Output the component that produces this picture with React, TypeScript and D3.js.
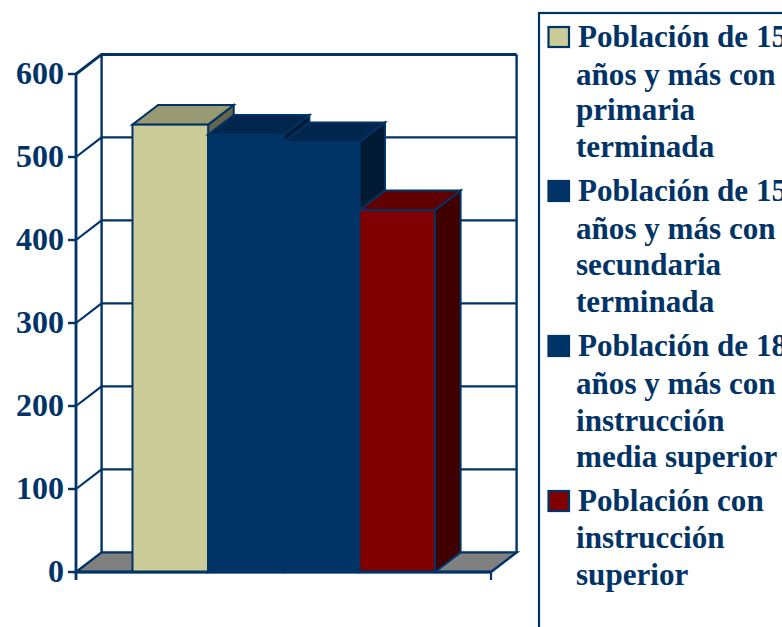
import React from "react";
import * as d3 from "d3";

const seriesNames = ["primaria", "secundaria", "mediaSuperior", "superior"];
const seriesValues = [539, 527, 518, 436];
const frontFills = ["#CCCC99", "#003366", "#003366", "#800000"];
const topFills = ["#999973", "#00264D", "#00264D", "#600000"];
const sideFills = ["#66664D", "#001A33", "#001A33", "#400000"];
const yTicks = [0, 100, 200, 300, 400, 500, 600];

const legendLabels = [
  ["Población de 15", "años y más con", "primaria", "terminada"],
  ["Población de 15", "años y más con", "secundaria", "terminada"],
  ["Población de 18", "años y más con", "instrucción", "media superior"],
  ["Población con", "instrucción", "superior"],
];
const legendSwatchFills = ["#CCCC99", "#003366", "#003366", "#800000"];
const legendBaselines = [
  [47, 85, 120, 157],
  [201, 239, 275, 312],
  [356, 394, 431, 467],
  [511, 548, 585],
];

const INK = "#003366";
const FONT = '"Liberation Serif", "Times New Roman", serif';
const DEPTH_X = 25.6;
const DEPTH_Y = 19.6;

const y = d3.scaleLinear().domain([0, 600]).range([572, 74]);
const x = d3.scaleBand<string>().domain(seriesNames).range([132.5, 435]);

const poly = (pts: [number, number][]) => pts.map((p) => p.join(",")).join(" ");

export default function App() {
  const x0 = 76;
  const x1 = 491;
  const y0 = y(0);
  const yTop = y(600);
  return (
    <svg
      width={782}
      height={627}
      style={{ position: "absolute", left: 0, top: 0, background: "#fff" }}
      fontFamily={FONT}
      fontWeight="bold"
    >
      {/* floor */}
      <polygon
        points={poly([
          [x0, y0],
          [x0 + DEPTH_X, y0 - DEPTH_Y],
          [x1 + DEPTH_X, y0 - DEPTH_Y],
          [x1, y0],
        ])}
        fill="#808080"
        stroke={INK}
        strokeWidth={2.4}
      />

      {/* gridlines across the side wall and back wall */}
      {yTicks.map((t) =>
        t > 0 ? (
          <polyline
            key={t}
            points={poly([
              [x0, y(t)],
              [x0 + DEPTH_X, y(t) - DEPTH_Y],
              [x1 + DEPTH_X, y(t) - DEPTH_Y],
            ])}
            stroke={INK}
            fill="none"
            strokeWidth={t === 600 ? 3 : 2.2}
          />
        ) : null
      )}
      <line x1={x0 + DEPTH_X} x2={x0 + DEPTH_X} y1={yTop - DEPTH_Y} y2={y0 - DEPTH_Y} stroke={INK} strokeWidth={2.4} />
      <line x1={x1 + DEPTH_X} x2={x1 + DEPTH_X} y1={yTop - DEPTH_Y} y2={y0 - DEPTH_Y} stroke={INK} strokeWidth={2.4} />

      {/* bars, drawn left to right so each overlaps its neighbour's side */}
      {seriesNames.map((name, i) => {
        const left = x(name)!;
        const right = left + x.bandwidth();
        const top = y(seriesValues[i]);
        return (
          <g key={name} stroke={INK} strokeWidth={2} strokeLinejoin="miter">
            <polygon
              points={poly([
                [right, top],
                [right + DEPTH_X, top - DEPTH_Y],
                [right + DEPTH_X, y0 - DEPTH_Y],
                [right, y0],
              ])}
              fill={sideFills[i]}
            />
            <polygon
              points={poly([
                [left, top],
                [left + DEPTH_X, top - DEPTH_Y],
                [right + DEPTH_X, top - DEPTH_Y],
                [right, top],
              ])}
              fill={topFills[i]}
            />
            <rect x={left} y={top} width={x.bandwidth()} height={y0 - top} fill={frontFills[i]} />
          </g>
        );
      })}

      {/* value axis and base line */}
      <line x1={x0} x2={x0} y1={yTop} y2={580} stroke={INK} strokeWidth={2.8} />
      <line x1={x0} x2={x1} y1={y0} y2={y0} stroke={INK} strokeWidth={2.8} />
      <line x1={x1} x2={x1} y1={y0} y2={580} stroke={INK} strokeWidth={2.2} />
      {yTicks.map((t) => (
        <g key={t}>
          <line x1={68} x2={x0} y1={y(t)} y2={y(t)} stroke={INK} strokeWidth={2.4} />
          <text x={64} y={y(t) + 10} textAnchor="end" fontSize={32} fill={INK}>
            {t}
          </text>
        </g>
      ))}

      {/* legend: the panel and its longest lines run past the right edge */}
      <rect x={539} y={13} width={300} height={700} fill="none" stroke={INK} strokeWidth={2.2} />
      {legendLabels.map((lines, i) => (
        <g key={i}>
          <rect
            x={548.5}
            y={legendBaselines[i][0] - 20}
            width={20.5}
            height={20}
            fill={legendSwatchFills[i]}
            stroke={INK}
            strokeWidth={2.2}
          />
          {lines.map((line, j) => (
            <text key={j} x={j === 0 ? 578 : 576} y={legendBaselines[i][j]} fontSize={31.1} fill={INK}>
              {line}
            </text>
          ))}
        </g>
      ))}
    </svg>
  );
}
